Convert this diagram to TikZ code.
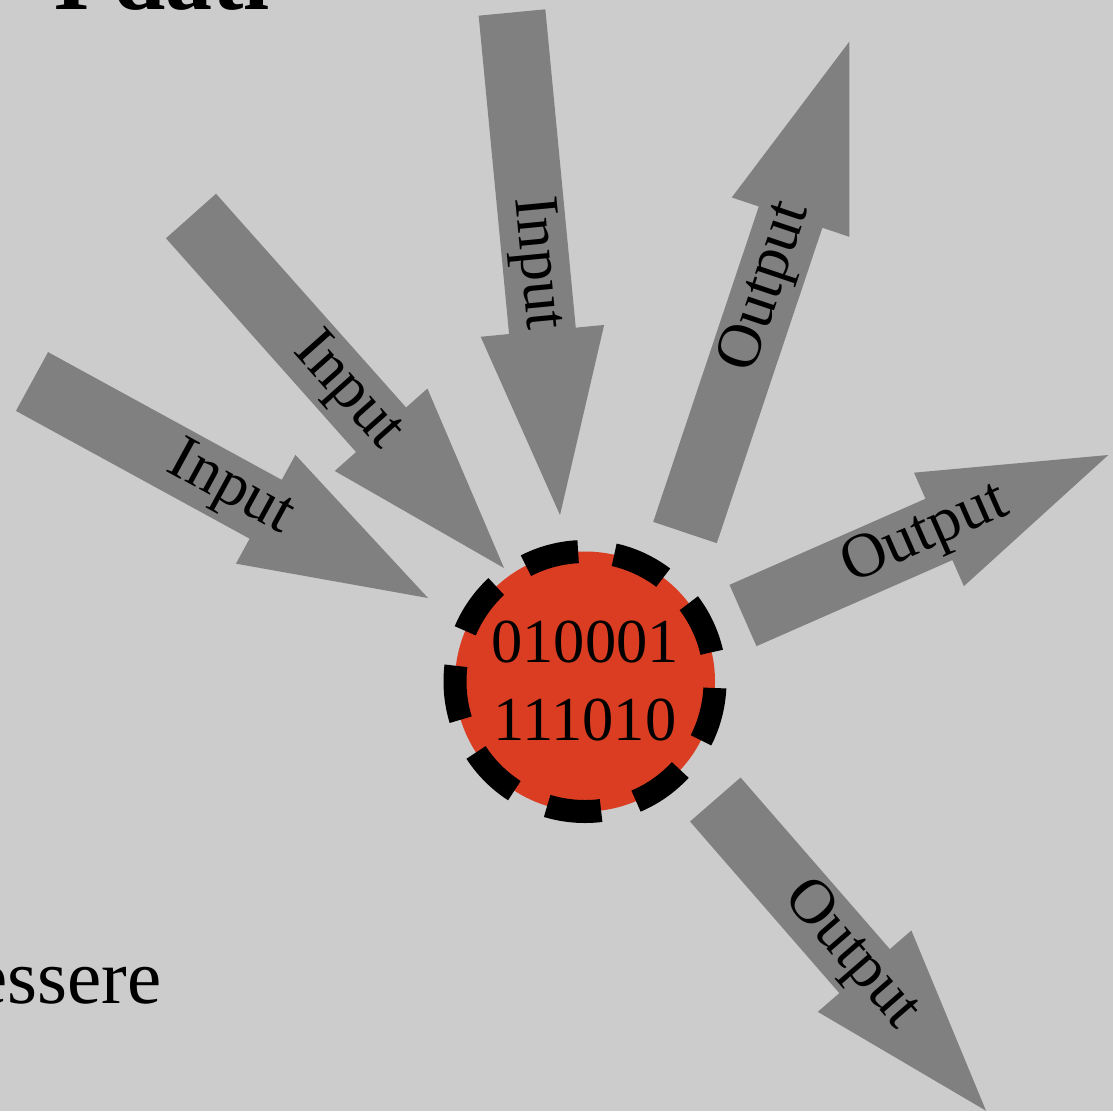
\documentclass[tikz,border=0pt]{standalone}
\usepackage{fontspec}
\setmainfont{Liberation Serif}
\usetikzlibrary{calc}
\definecolor{bg}{RGB}{204,204,204}
\definecolor{arrowgray}{RGB}{128,128,128}
\definecolor{datared}{RGB}{218,61,34}
\tikzset{
  labeltext/.style={font=\fontsize{63}{75}\selectfont, text=black, inner sep=0pt, sloped},
  datacircle/.style={circle, fill=datared, draw=black, line width=23pt,
    dash pattern=on 54.5pt off 36.3pt, dash phase=61.3pt,
    minimum size=260pt, inner sep=0pt, align=center,
    font=\fontsize{62.5}{78}\selectfont},
  titletext/.style={anchor=base west, inner sep=0pt, font=\fontsize{94}{110}\selectfont\bfseries},
  bodytext/.style={anchor=base east, inner sep=0pt, font=\fontsize{77}{90}\selectfont}
}
\newcommand\fatarrow[3]{%
  \coordinate (#1-h) at ($(#2)!185pt!(#1)$);
  \fill[arrowgray] ($(#1)!33.5pt!90:(#2)$) -- ($(#1-h)!33.5pt!90:(#2)$)
    -- ($(#1-h)!62pt!90:(#2)$) -- (#2) -- ($(#1-h)!62pt!-90:(#2)$)
    -- ($(#1-h)!33.5pt!-90:(#2)$) -- ($(#1)!33.5pt!-90:(#2)$) -- cycle;
  \path (#1) -- node[labeltext] (#1-label) {#3} (#2);
}
\begin{document}
\begin{tikzpicture}[x=1pt,y=-1pt]
\fill[bg] (0,0) rectangle (1113,1111);
\useasboundingbox (0,0) rectangle (1113,1111);
\clip (0,0) rectangle (1113,1111);

\node[titletext] (title) at (53,9.5) {I dati};
\node[bodytext] (body) at (162,1003) {essere};

\coordinate (in1) at (32,381.5);   \coordinate (in1tip) at (428,598);
\coordinate (in2) at (191,216);    \coordinate (in2tip) at (504,568);
\coordinate (in3) at (512,12.5);   \coordinate (in3tip) at (560,515);
\coordinate (out1) at (685,532.5); \coordinate (out1tip) at (849.3,41.7);
\coordinate (out2) at (743,615.5); \coordinate (out2tip) at (1108.3,455);
\coordinate (out3) at (715.3,799.5); \coordinate (out3tip) at (986,1110.7);

\fatarrow{in1}{in1tip}{Input}
\fatarrow{in2}{in2tip}{Input}
\fatarrow{in3}{in3tip}{Input}
\fatarrow{out1}{out1tip}{Output}
\fatarrow{out2}{out2tip}{Output}
\fatarrow{out3}{out3tip}{Output}

\node[datacircle] (data) at (585,681.5) {010001\\111010};
\end{tikzpicture}
\end{document}
